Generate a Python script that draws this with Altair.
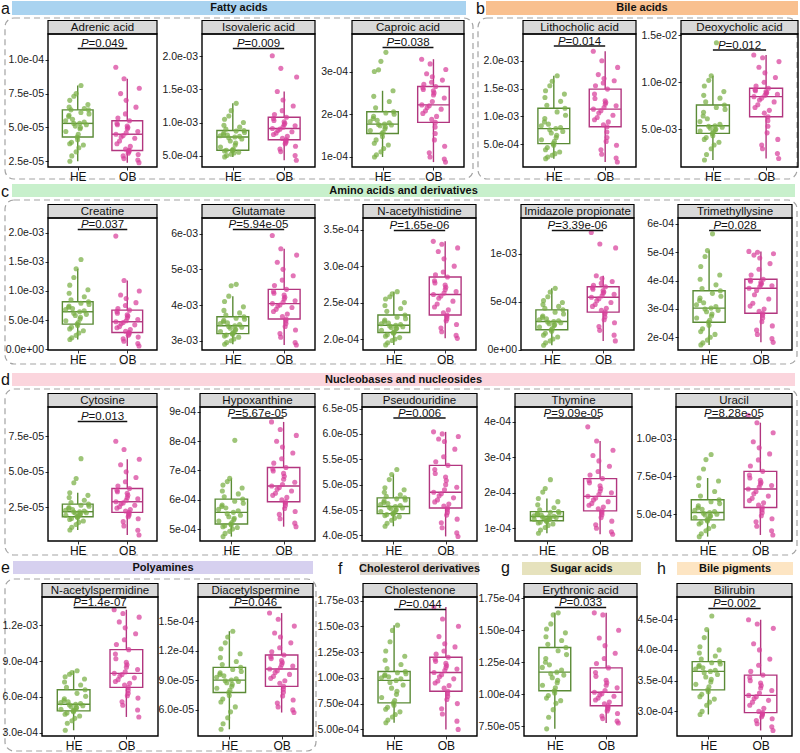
import altair as alt
import pandas as pd

FONT = "Liberation Sans"
HE_FILL, OB_FILL = "#78ae44", "#d8409b"
HE_LINE, OB_LINE = "#5b8b36", "#b2367f"

# ---------------- metabolite panels ----------------
names = ["Adrenic acid", "Isovaleric acid", "Caproic acid", "Lithocholic acid", "Deoxycholic acid",
         "Creatine", "Glutamate", "N-acetylhistidine", "Imidazole propionate", "Trimethyllysine",
         "Cytosine", "Hypoxanthine", "Pseudouridine", "Thymine", "Uracil",
         "N-acetylspermidine", "Diacetylspermine", "Cholestenone", "Erythronic acid", "Bilirubin"]
p_values = ["0.049", "0.009", "0.038", "0.014", "0.012",
            "0.037", "5.94e-05", "1.65e-06", "3.39e-06", "0.028",
            "0.013", "5.67e-05", "0.006", "9.09e-05", "8.28e-05",
            "1.4e-07", "0.046", "0.044", "0.033", "0.002"]
# each group's values are stored in these units
units = [1e-5, 1e-4, 1e-4, 1e-4, 1e-3,
         1e-4, 1e-3, 1e-4, 1e-4, 1e-4,
         1e-5, 1e-4, 1e-5, 1e-4, 1e-4,
         1e-4, 1e-5, 1e-4, 1e-5, 1e-4]
tick_values = [[2.5e-5, 5e-5, 7.5e-5, 1e-4], [5e-4, 1e-3, 1.5e-3, 2e-3], [1e-4, 2e-4, 3e-4],
               [5e-4, 1e-3, 1.5e-3, 2e-3], [5e-3, 1e-2, 1.5e-2],
               [0, 5e-4, 1e-3, 1.5e-3, 2e-3], [3e-3, 4e-3, 5e-3, 6e-3], [2e-4, 2.5e-4, 3e-4, 3.5e-4],
               [0, 5e-4, 1e-3], [2e-4, 3e-4, 4e-4, 5e-4, 6e-4],
               [2.5e-5, 5e-5, 7.5e-5], [5e-4, 6e-4, 7e-4, 8e-4, 9e-4],
               [4e-5, 4.5e-5, 5e-5, 5.5e-5, 6e-5, 6.5e-5], [1e-4, 2e-4, 3e-4, 4e-4], [5e-4, 7.5e-4, 1e-3],
               [3e-4, 6e-4, 9e-4, 1.2e-3], [6e-5, 9e-5, 1.2e-4, 1.5e-4],
               [5e-4, 7.5e-4, 1e-3, 1.25e-3, 1.5e-3, 1.75e-3], [7.5e-5, 1e-4, 1.25e-4, 1.5e-4, 1.75e-4],
               [3e-4, 3.5e-4, 4e-4, 4.5e-4]]
tick_decimals = [1, 1, 0, 1, 1, 1, 0, 1, 0, 0, 1, 0, 1, 0, 1, 1, 1, 2, 2, 1]
y_domains = [[2.08e-5, 1.19e-4], [3.27e-4, 2.34e-3], [7.65e-5, 3.88e-4], [9e-5, 2.48e-3], [9.6e-4, 1.514e-2],
             [-1.1e-5, 2.25e-3], [2.74e-3, 6.44e-3], [1.85e-4, 3.66e-4], [-5e-6, 1.372e-3], [1.55e-4, 6.21e-4],
             [1.4e-6, 9.56e-5], [4.59e-4, 9.17e-4], [3.89e-5, 6.53e-5], [6.4e-5, 4.42e-4], [3.22e-4, 1.211e-3],
             [2.72e-4, 1.439e-3], [3.35e-5, 1.745e-4], [4.36e-4, 1.784e-3], [6.74e-5, 1.76e-4], [2.6e-4, 4.86e-4]]

adrenic_he = [2.5, 2.9, 3.2, 3.5, 3.7, 3.8, 3.9, 4.1, 4.3, 4.5, 4.7, 4.9, 5.0, 5.1, 5.2, 5.3, 5.3, 5.4, 5.5, 5.6, 5.8, 5.9, 6.0, 6.1, 6.3, 6.3, 6.4, 6.5, 6.7, 7.0, 7.3, 7.5, 8.1]
adrenic_ob = [2.4, 2.6, 2.7, 2.9, 3.0, 3.1, 3.2, 3.3, 3.3, 3.4, 3.6, 3.8, 4.0, 4.2, 4.3, 4.4, 4.5, 4.6, 4.7, 4.9, 5.0, 5.1, 5.2, 5.3, 5.5, 5.7, 6.0, 6.5, 7.0, 7.5, 7.9, 8.6, 9.45]
isovaleric_he = [4.8, 5.0, 5.2, 5.4, 5.5, 5.7, 5.8, 5.8, 5.8, 6.0, 6.3, 6.6, 6.9, 7.2, 7.5, 7.7, 7.8, 7.9, 8.0, 8.1, 8.2, 8.4, 8.5, 8.7, 8.8, 9.0, 9.3, 9.6, 10.0, 10.5, 11.0, 11.8, 12.9]
isovaleric_ob = [4.3, 5.0, 5.6, 6.0, 6.4, 6.8, 7.0, 7.2, 7.4, 7.6, 7.9, 8.2, 8.4, 8.6, 8.8, 9.0, 9.1, 9.3, 9.5, 9.7, 9.9, 10.1, 10.3, 10.6, 10.8, 11.2, 11.8, 12.5, 13.4, 14.7, 16.9, 18.2, 20.1]
caproic_he = [1.0, 1.05, 1.12, 1.2, 1.28, 1.32, 1.4, 1.48, 1.55, 1.58, 1.62, 1.66, 1.7, 1.73, 1.75, 1.76, 1.77, 1.8, 1.83, 1.86, 1.9, 1.95, 2.0, 2.03, 2.06, 2.15, 2.3, 2.42, 2.55, 3.0, 3.04, 3.24, 3.45]
caproic_ob = [0.88, 0.95, 1.0, 1.1, 1.25, 1.4, 1.55, 1.7, 1.81, 1.88, 1.95, 2.02, 2.08, 2.12, 2.16, 2.2, 2.22, 2.3, 2.38, 2.45, 2.5, 2.55, 2.58, 2.62, 2.65, 2.7, 2.75, 2.8, 2.88, 2.95, 3.05, 3.18, 3.29]
lithocholic_he = [2.4, 2.7, 3.0, 3.3, 3.6, 4.0, 4.4, 4.8, 5.1, 5.5, 5.8, 6.2, 6.6, 7.0, 7.3, 7.6, 7.8, 8.0, 8.3, 8.6, 9.0, 9.6, 10.2, 10.8, 11.45, 12.0, 12.7, 13.4, 14.0, 14.6, 15.5, 16.3, 17.3]
lithocholic_ob = [1.8, 2.5, 3.2, 4.0, 4.8, 5.5, 6.2, 7.2, 8.13, 8.5, 9.0, 9.4, 9.8, 10.2, 10.6, 11.0, 11.3, 11.6, 11.9, 12.2, 12.5, 12.8, 13.2, 14.0, 14.9, 15.5, 16.0, 16.4, 16.8, 17.5, 18.8, 20.0, 21.7]
deoxycholic_he = [1.7, 2.3, 2.9, 3.3, 3.6, 3.9, 4.1, 4.3, 4.54, 4.7, 4.8, 4.9, 5.0, 5.1, 5.2, 5.3, 5.36, 5.5, 5.8, 6.1, 6.4, 6.8, 7.1, 7.3, 7.57, 7.9, 8.3, 8.6, 9.0, 9.6, 10.2, 10.68, 14.2]
deoxycholic_ob = [1.86, 2.4, 2.9, 3.3, 3.9, 4.6, 5.3, 5.9, 6.32, 6.7, 7.0, 7.3, 7.6, 7.9, 8.1, 8.3, 8.46, 8.6, 8.7, 8.8, 8.9, 9.0, 9.1, 9.2, 9.36, 9.6, 10.0, 10.5, 11.0, 11.6, 12.2, 12.6, 12.9]
creatine_he = [1.7, 2.0, 2.4, 2.8, 3.2, 3.5, 3.8, 4.1, 4.33, 4.6, 4.9, 5.2, 5.5, 5.8, 6.0, 6.2, 6.44, 6.6, 6.8, 7.0, 7.2, 7.4, 7.7, 7.9, 8.15, 8.5, 9.0, 9.6, 10.2, 11.0, 12.3, 13.8, 15.4]
creatine_ob = [0.57, 1.0, 1.4, 1.8, 2.1, 2.4, 2.6, 2.8, 2.9, 3.1, 3.4, 3.7, 3.9, 4.2, 4.4, 4.6, 4.73, 4.9, 5.1, 5.4, 5.7, 5.9, 6.2, 6.5, 6.72, 7.0, 7.5, 8.0, 8.7, 9.3, 10.0, 11.8, 19.4]
glutamate_he = [2.9, 2.95, 3.0, 3.05, 3.1, 3.13, 3.16, 3.18, 3.2, 3.23, 3.26, 3.29, 3.32, 3.35, 3.38, 3.4, 3.42, 3.45, 3.48, 3.5, 3.53, 3.57, 3.6, 3.63, 3.67, 3.72, 3.78, 3.85, 3.95, 4.1, 4.25, 4.54, 4.58]
glutamate_ob = [2.88, 2.95, 3.1, 3.2, 3.3, 3.4, 3.48, 3.55, 3.61, 3.68, 3.75, 3.82, 3.88, 3.93, 3.97, 4.0, 4.04, 4.08, 4.12, 4.17, 4.22, 4.28, 4.33, 4.38, 4.44, 4.55, 4.7, 4.82, 5.0, 5.2, 5.4, 5.58, 5.95]
acetylhistidine_he = [1.92, 1.95, 1.98, 2.0, 2.02, 2.04, 2.06, 2.08, 2.09, 2.1, 2.12, 2.14, 2.15, 2.16, 2.17, 2.18, 2.19, 2.2, 2.21, 2.22, 2.24, 2.26, 2.28, 2.3, 2.33, 2.38, 2.42, 2.46, 2.5, 2.55, 2.58, 2.62, 2.65]
acetylhistidine_ob = [2.01, 2.05, 2.1, 2.15, 2.2, 2.25, 2.28, 2.31, 2.33, 2.36, 2.4, 2.44, 2.48, 2.52, 2.56, 2.59, 2.61, 2.63, 2.65, 2.68, 2.71, 2.74, 2.77, 2.8, 2.85, 2.88, 2.92, 3.0, 3.1, 3.2, 3.25, 3.3, 3.34]
imidazole_he = [0.45, 0.7, 0.9, 1.1, 1.3, 1.5, 1.7, 1.9, 2.07, 2.2, 2.35, 2.5, 2.6, 2.7, 2.8, 2.87, 2.93, 3.0, 3.1, 3.2, 3.35, 3.5, 3.7, 3.9, 4.14, 4.3, 4.5, 4.7, 4.9, 5.1, 5.5, 6.0, 6.38]
imidazole_ob = [0.9, 1.5, 2.0, 2.4, 2.8, 3.1, 3.4, 3.7, 3.9, 4.1, 4.3, 4.5, 4.7, 4.9, 5.1, 5.3, 5.45, 5.6, 5.75, 5.9, 6.0, 6.15, 6.3, 6.45, 6.55, 6.7, 6.9, 7.1, 7.4, 7.69, 10.6, 11.0, 12.2]
trimethyllysine_he = [1.73, 1.8, 1.9, 2.0, 2.1, 2.2, 2.3, 2.42, 2.53, 2.6, 2.68, 2.75, 2.82, 2.9, 2.95, 3.0, 3.03, 3.08, 3.15, 3.22, 3.3, 3.38, 3.45, 3.55, 3.64, 3.72, 3.85, 4.05, 4.2, 4.5, 4.85, 5.06, 5.65]
trimethyllysine_ob = [1.82, 1.95, 2.1, 2.25, 2.4, 2.55, 2.68, 2.78, 2.85, 2.92, 3.0, 3.1, 3.2, 3.35, 3.5, 3.65, 3.73, 3.78, 3.82, 3.86, 3.9, 3.94, 3.98, 4.02, 4.05, 4.2, 4.4, 4.6, 4.8, 4.9, 4.95, 5.0, 5.03]
cytosine_he = [0.91, 1.1, 1.3, 1.45, 1.55, 1.65, 1.72, 1.8, 1.85, 1.9, 1.95, 2.0, 2.05, 2.1, 2.13, 2.17, 2.2, 2.25, 2.3, 2.35, 2.42, 2.5, 2.58, 2.65, 2.73, 2.85, 3.0, 3.2, 3.35, 3.53, 4.23, 4.53, 5.93]
cytosine_ob = [0.56, 0.9, 1.2, 1.5, 1.7, 1.85, 1.95, 2.05, 2.15, 2.25, 2.35, 2.45, 2.55, 2.65, 2.75, 2.82, 2.9, 3.0, 3.1, 3.2, 3.35, 3.5, 3.6, 3.7, 3.83, 4.0, 4.3, 4.6, 5.0, 5.5, 5.89, 6.57, 7.15]
hypoxanthine_he = [4.74, 4.85, 4.92, 5.0, 5.05, 5.08, 5.11, 5.14, 5.17, 5.22, 5.27, 5.32, 5.37, 5.42, 5.47, 5.52, 5.57, 5.62, 5.67, 5.72, 5.77, 5.82, 5.88, 5.95, 6.02, 6.1, 6.2, 6.3, 6.4, 6.5, 6.62, 6.73, 8.03]
hypoxanthine_ob = [5.08, 5.2, 5.35, 5.5, 5.6, 5.7, 5.8, 5.88, 5.93, 6.0, 6.08, 6.15, 6.22, 6.3, 6.36, 6.42, 6.47, 6.52, 6.6, 6.7, 6.8, 6.9, 6.98, 7.05, 7.1, 7.25, 7.4, 7.6, 7.8, 8.0, 8.2, 8.4, 8.66]
pseudouridine_he = [4.18, 4.24, 4.3, 4.34, 4.37, 4.39, 4.41, 4.42, 4.43, 4.45, 4.47, 4.49, 4.51, 4.53, 4.54, 4.55, 4.57, 4.59, 4.61, 4.63, 4.65, 4.68, 4.7, 4.72, 4.74, 4.77, 4.8, 4.85, 4.9, 4.94, 5.1, 5.2, 5.3]
pseudouridine_ob = [3.98, 4.05, 4.15, 4.25, 4.32, 4.4, 4.45, 4.5, 4.54, 4.58, 4.62, 4.66, 4.7, 4.74, 4.78, 4.82, 4.85, 4.9, 4.95, 5.0, 5.08, 5.15, 5.22, 5.3, 5.38, 5.45, 5.55, 5.7, 5.85, 5.9, 5.95, 6.0, 6.04]
thymine_he = [0.86, 0.95, 1.02, 1.08, 1.12, 1.15, 1.17, 1.19, 1.21, 1.23, 1.25, 1.26, 1.27, 1.28, 1.3, 1.31, 1.33, 1.34, 1.35, 1.37, 1.39, 1.41, 1.43, 1.45, 1.47, 1.52, 1.58, 1.66, 1.75, 1.84, 2.02, 2.12, 2.37]
thymine_ob = [0.83, 0.9, 1.0, 1.1, 1.2, 1.3, 1.38, 1.44, 1.49, 1.55, 1.6, 1.65, 1.7, 1.75, 1.8, 1.85, 1.9, 1.95, 2.0, 2.05, 2.12, 2.2, 2.28, 2.35, 2.4, 2.5, 2.6, 2.75, 2.9, 3.05, 3.2, 3.46, 3.86]
uracil_he = [3.51, 3.7, 3.9, 4.05, 4.2, 4.35, 4.45, 4.55, 4.62, 4.7, 4.78, 4.85, 4.9, 4.95, 5.0, 5.06, 5.11, 5.18, 5.25, 5.33, 5.42, 5.55, 5.7, 5.82, 5.96, 6.2, 6.5, 6.9, 7.2, 7.4, 8.0, 8.62, 8.96]
uracil_ob = [3.62, 3.9, 4.2, 4.5, 4.7, 4.9, 5.1, 5.3, 5.44, 5.6, 5.75, 5.9, 6.05, 6.2, 6.35, 6.5, 6.67, 6.8, 6.9, 7.0, 7.1, 7.25, 7.4, 7.6, 7.84, 8.2, 8.6, 9.0, 9.4, 9.8, 10.4, 11.07, 11.56]
acetylspermidine_he = [3.2, 3.79, 4.0, 4.2, 4.4, 4.55, 4.65, 4.75, 4.83, 4.9, 4.97, 5.05, 5.12, 5.2, 5.27, 5.33, 5.39, 5.45, 5.52, 5.6, 5.7, 5.85, 6.05, 6.3, 6.6, 6.8, 7.0, 7.25, 7.5, 7.7, 7.9, 8.05, 8.2]
acetylspermidine_ob = [4.32, 4.9, 5.3, 5.6, 5.9, 6.1, 6.3, 6.55, 6.8, 7.0, 7.15, 7.3, 7.45, 7.6, 7.75, 7.88, 7.98, 8.1, 8.3, 8.5, 8.7, 8.9, 9.2, 9.6, 9.97, 10.4, 10.8, 11.3, 11.8, 12.3, 12.7, 13.0, 13.32]
diacetylspermine_he = [4.03, 4.6, 5.2, 5.8, 6.3, 6.8, 7.1, 7.45, 7.77, 8.0, 8.2, 8.4, 8.6, 8.75, 8.88, 8.95, 9.02, 9.15, 9.3, 9.45, 9.6, 9.75, 9.9, 10.1, 10.31, 10.6, 10.9, 11.3, 11.7, 12.2, 12.8, 13.4, 13.98]
diacetylspermine_ob = [5.73, 6.0, 6.3, 6.7, 7.0, 7.4, 7.8, 8.1, 8.38, 8.7, 8.95, 9.2, 9.4, 9.6, 9.8, 9.98, 10.14, 10.3, 10.45, 10.6, 10.8, 11.0, 11.2, 11.4, 11.57, 11.9, 12.3, 12.8, 13.4, 13.8, 14.5, 15.2, 15.82]
cholestenone_he = [5.64, 5.9, 6.2, 6.45, 6.7, 6.95, 7.15, 7.35, 7.57, 7.8, 8.1, 8.4, 8.7, 9.0, 9.3, 9.55, 9.75, 9.9, 10.0, 10.1, 10.2, 10.3, 10.4, 10.5, 10.62, 10.9, 11.3, 11.7, 12.1, 12.6, 13.5, 14.6, 15.11]
cholestenone_ob = [5.0, 5.8, 6.5, 7.0, 7.5, 7.9, 8.2, 8.45, 8.7, 9.0, 9.25, 9.5, 9.7, 9.9, 10.1, 10.3, 10.52, 10.7, 10.85, 11.0, 11.2, 11.4, 11.6, 11.8, 12.0, 12.3, 12.6, 13.0, 13.3, 14.0, 15.0, 15.7, 16.87]
erythronic_he = [7.3, 8.2, 8.8, 9.3, 9.5, 9.7, 9.9, 10.1, 10.28, 10.5, 10.7, 10.9, 11.1, 11.3, 11.5, 11.6, 11.73, 11.9, 12.1, 12.3, 12.5, 12.8, 13.1, 13.4, 13.65, 13.9, 14.2, 14.5, 14.8, 15.1, 15.5, 16.2, 16.36]
erythronic_ob = [7.75, 7.9, 8.1, 8.3, 8.5, 8.7, 8.85, 8.98, 9.1, 9.25, 9.4, 9.55, 9.7, 9.85, 9.95, 10.05, 10.16, 10.3, 10.5, 10.7, 10.9, 11.1, 11.4, 11.7, 12.06, 12.4, 12.8, 13.2, 13.8, 14.4, 15.0, 16.2, 16.36]
bilirubin_he = [2.95, 3.0, 3.1, 3.15, 3.2, 3.24, 3.28, 3.32, 3.35, 3.4, 3.44, 3.48, 3.52, 3.56, 3.6, 3.63, 3.65, 3.67, 3.69, 3.71, 3.73, 3.75, 3.77, 3.79, 3.81, 3.85, 3.9, 3.95, 4.0, 4.05, 4.2, 4.33, 4.55]
bilirubin_ob = [2.69, 2.75, 2.8, 2.85, 2.88, 2.91, 2.94, 2.96, 2.98, 3.0, 3.05, 3.1, 3.15, 3.18, 3.21, 3.24, 3.26, 3.3, 3.34, 3.38, 3.42, 3.46, 3.5, 3.55, 3.59, 3.65, 3.75, 3.85, 4.0, 4.1, 4.35, 4.42, 4.49]

he_values = [adrenic_he, isovaleric_he, caproic_he, lithocholic_he, deoxycholic_he,
             creatine_he, glutamate_he, acetylhistidine_he, imidazole_he, trimethyllysine_he,
             cytosine_he, hypoxanthine_he, pseudouridine_he, thymine_he, uracil_he,
             acetylspermidine_he, diacetylspermine_he, cholestenone_he, erythronic_he, bilirubin_he]
ob_values = [adrenic_ob, isovaleric_ob, caproic_ob, lithocholic_ob, deoxycholic_ob,
             creatine_ob, glutamate_ob, acetylhistidine_ob, imidazole_ob, trimethyllysine_ob,
             cytosine_ob, hypoxanthine_ob, pseudouridine_ob, thymine_ob, uracil_ob,
             acetylspermidine_ob, diacetylspermine_ob, cholestenone_ob, erythronic_ob, bilirubin_ob]

# ---------------- layout ----------------
row_tops = [34, 218, 407, 597]          # top edge of the plot areas in each row
row_heights = [133, 132, 134, 139]
bands = [(0, 183), (183, 367), (367, 557), (557, 753)]   # vertical strip owned by each row
lead_w = [48, 48, 48, 42]
panel_w = [[109, 113, 112, 113, 117], [109, 113, 113, 113, 114],
           [109, 115, 115, 117, 116], [116, 115, 114, 113, 115]]
gaps = [[45, 37, 59, 45], [45, 48, 45, 44], [43, 47, 38, 44], [40, 50, 47, 40]]
p_dy = [10, 10, 9, 7.5, 11.5, 7, 7, 8, 8, 8, 10, 6.5, 6.5, 6.5, 6.5, 6, 6, 8, 6, 7]

# group headers: (row, letter, letter x, letter baseline, bar x0, x1, y0, y1, colour, title)
headers = [
    (0, "a", 1, 13.5, 12, 466, 1, 15, "#a9d3f0", "Fatty acids"),
    (0, "b", 476, 13.5, 486, 798, 1, 15, "#f9c08f", "Bile acids"),
    (1, "c", 1, 197, 12, 795, 184, 197, "#c8f0cc", "Amino acids and derivatives"),
    (2, "d", 1, 385, 12, 795, 373, 386, "#fbd5dd", "Nucleobases and nucleosides"),
    (3, "e", 1, 573, 13, 313, 561, 574, "#d6d0ef", "Polyamines"),
    (3, "f", 338, 574, 360, 479, 562, 575, "#ddd6cf", "Cholesterol derivatives"),
    (3, "g", 501, 573, 522, 641, 562, 575, "#e6e2bd", "Sugar acids"),
    (3, "h", 657, 574, 677, 793, 562, 575, "#fde5c3", "Bile pigments"),
]
# dashed group frames: (row, x0, x1, y0, y1)
frames = [(0, 5, 473, 18, 179), (0, 478, 797, 18, 179), (1, 5, 797, 200, 364),
          (2, 5, 797, 389, 555), (3, 5, 316, 579, 751)]

ONE = pd.DataFrame({"k": [0]})
XSCALE = alt.Scale(domain=[0.4, 2.6], nice=False, zero=False)
XAXIS = alt.Axis(values=[1, 2], labelExpr="datum.value == 1 ? 'HE' : 'OB'", title=None,
                 grid=False, domain=False, tickSize=3, tickColor="#333333", labelFontSize=12,
                 labelColor="#111111", labelPadding=1, labelAngle=0)
STROKE = alt.Stroke("grp:N", scale=alt.Scale(domain=["HE", "OB"], range=[HE_LINE, OB_LINE]), legend=None)
FILL = alt.Color("grp:N", scale=alt.Scale(domain=["HE", "OB"], range=[HE_FILL, OB_FILL]), legend=None)

GLYPH = {"P": 667, "=": 584, ".": 278, "e": 556, "-": 333}


def text_width(s, size):
    return sum(GLYPH.get(c, 556) for c in s) * size / 1000.0


def X(field=None, datum=None):
    if field is not None:
        return alt.X(field, type="quantitative", scale=XSCALE, axis=XAXIS)
    return alt.X(datum=datum, type="quantitative", scale=XSCALE, axis=XAXIS)


def rect_deco(x0, x1, y0, y1, **mark):
    return alt.Chart(ONE).mark_rect(**mark).encode(
        x=alt.value(x0), x2=alt.value(x1), y=alt.value(y0), y2=alt.value(y1))


def text_deco(x, y, s, **mark):
    return alt.Chart(ONE).mark_text(text=s, **mark).encode(x=alt.value(x), y=alt.value(y))


def panel(k, W, H):
    he = [v * units[k] for v in he_values[k]]
    ob = [v * units[k] for v in ob_values[k]]
    df = pd.DataFrame({
        "grp": ["HE"] * len(he) + ["OB"] * len(ob),
        "pos": [1] * len(he) + [2] * len(ob),
        "v": he + ob,
        "i": list(range(len(he))) + list(range(len(ob))),
    })
    d = tick_decimals[k]
    yscale = alt.Scale(domain=y_domains[k], nice=False, zero=False)
    yaxis = alt.Axis(values=tick_values[k], title=None, grid=False, domain=False, tickSize=3,
                     tickColor="#333333", labelFontSize=10.5, labelColor="#1a1a1a", labelPadding=1.5,
                     labelExpr=f"replace(replace(format(datum.value, '.{d}e'), 'e-', 'e-0'), 'e+', 'e+0')")

    def Y(field):
        return alt.Y(field, type="quantitative", scale=yscale, axis=yaxis)

    base = alt.Chart(df)
    # Tukey box statistics: quartiles, median and whiskers reaching the last point inside 1.5 IQR
    stats = (base
             .transform_joinaggregate(q1="q1(v)", q3="q3(v)", med="median(v)", groupby=["grp"])
             .transform_calculate(lof="datum.q1 - 1.5 * (datum.q3 - datum.q1)",
                                  hif="datum.q3 + 1.5 * (datum.q3 - datum.q1)")
             .transform_filter("datum.v >= datum.lof && datum.v <= datum.hif")
             .transform_aggregate(lo="min(v)", hi="max(v)", q1="max(q1)", q3="max(q3)",
                                  med="max(med)", pos="max(pos)", groupby=["grp"])
             .transform_calculate(xl="datum.pos - 0.31", xr="datum.pos + 0.31"))

    whisk = stats.mark_rule(strokeWidth=1.4).encode(x=X("pos"), y=Y("lo"), y2="hi", stroke=STROKE)
    box = stats.mark_rect(fill="white", strokeWidth=1.4).encode(
        x=X("xl"), x2="xr", y=Y("q1"), y2="q3", stroke=STROKE)
    med = stats.mark_rule(strokeWidth=1.4).encode(x=X("xl"), x2="xr", y=Y("med"), stroke=STROKE)
    pts = (base
           .transform_calculate(jx="datum.pos + (abs(sin(datum.i * 12.9898 + datum.pos * 78.233) * 43758.5453) % 1 - 0.5) * 0.5")
           .mark_circle(size=26, opacity=0.72)
           .encode(x=X("jx"), y=Y("v"), color=FILL))

    rest = "=" + p_values[k]
    wp = text_width("P", 11.5)
    tw = wp + text_width(rest, 11.5)
    ty = p_dy[k]
    p1 = alt.Chart(ONE).mark_text(text="P", fontStyle="italic", fontSize=11.5, align="left",
                                  baseline="middle", dx=-tw / 2, color="#111111").encode(
        x=X(datum=1.5), y=alt.value(ty))
    p2 = alt.Chart(ONE).mark_text(text=rest, fontSize=11.5, align="left", baseline="middle",
                                  dx=-tw / 2 + wp, color="#111111").encode(
        x=X(datum=1.5), y=alt.value(ty))
    pline = alt.Chart(ONE).mark_rule(color="#111111", strokeWidth=1.3).encode(
        x=X(datum=1), x2=alt.X2(datum=2), y=alt.value(ty + 4.5))

    strip = rect_deco(0, W, -13.5, 0, fill="#d9d9d9", stroke="black", strokeWidth=1.2)
    strip_txt = text_deco(W / 2, -6.5, names[k], fontSize=11.5, baseline="middle", color="#111111")
    border = rect_deco(0, W, 0, H, fillOpacity=0, stroke="black", strokeWidth=1.4)

    return alt.layer(whisk, box, med, pts, pline, p1, p2, strip, strip_txt, border).properties(
        width=W, height=H)


def spacer(w):
    return alt.Chart(ONE).mark_point(size=1, opacity=0).encode(
        x=alt.value(1), y=alt.value(1)).properties(width=w, height=1)


def lead(r):
    top = row_tops[r]
    b0, b1 = bands[r]
    layers = [rect_deco(0, 800, b0 - top, b1 - top, fill="white")]
    for (rr, x0, x1, y0, y1) in frames:
        if rr == r:
            layers.append(rect_deco(x0, x1, y0 - top, y1 - top, fillOpacity=0, stroke="#a3a3a3",
                                    strokeWidth=1.2, strokeDash=[6, 4], cornerRadius=9))
    for (rr, letter, lx, ly, x0, x1, y0, y1, colour, title) in headers:
        if rr == r:
            layers.append(rect_deco(x0, x1, y0 - top, y1 - top, fill=colour))
            layers.append(text_deco((x0 + x1) / 2, (y0 + y1) / 2 - top, title, fontSize=11,
                                    fontWeight="bold", baseline="middle", color="#111111"))
            layers.append(text_deco(lx, ly - top, letter, fontSize=16, align="left",
                                    baseline="alphabetic", color="#111111"))
    return alt.layer(*layers).properties(width=lead_w[r], height=row_heights[r])


rows = []
k = 0
for r in range(4):
    items = [lead(r)]
    for j in range(5):
        items.append(panel(k, panel_w[r][j], row_heights[r]))
        k += 1
        if j < 4:
            items.append(spacer(gaps[r][j]))
    rows.append(alt.hconcat(*items, spacing=0, bounds="flush"))

chart = (alt.vconcat(*rows, spacing=0, bounds="full")
         .properties(padding=0, background="white")
         .configure(font=FONT)
         .configure_view(strokeWidth=0))

chart.save("out.html", embed_options={"renderer": "svg", "actions": False})
